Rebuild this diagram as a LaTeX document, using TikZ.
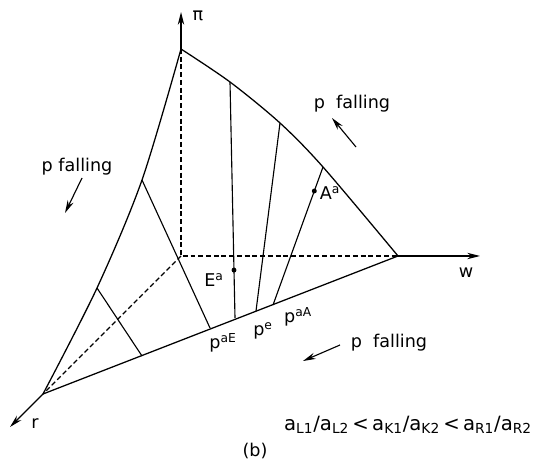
\documentclass[tikz,border=0pt]{standalone}
\usepackage{fontspec}
\setmainfont{DejaVu Sans}
\usetikzlibrary{arrows.meta}

\begin{document}
\begin{tikzpicture}[
  x=0.025cm, y=-0.025cm,
  >={Stealth[length=3.2mm,width=1.6mm]},
  font=\fontsize{12.5}{14}\selectfont,
  edge/.style={line width=0.9pt},
  hidden/.style={line width=0.8pt, dash pattern=on 3.5pt off 2pt},
  ray/.style={line width=0.8pt},
  axis/.style={->, line width=0.9pt},
  trend/.style={->, line width=0.8pt},
  dot/.style={circle, fill=black, inner sep=0pt, minimum size=3.5pt},
  lab/.style={inner sep=1pt}]

\useasboundingbox (0,0) rectangle (552,464);

% corners of the surface
\coordinate (O) at (181,256);
\coordinate (P) at (181,49);
\coordinate (W) at (398,256);
\coordinate (R) at (43,394);
\coordinate (Ptip) at (181,12);
\coordinate (Wtip) at (480,256);
\coordinate (Rtip) at (10,427);

% points on the curved edges
\coordinate (L1) at (97,288);
\coordinate (L2) at (142,180);
\coordinate (T1) at (230,82);
\coordinate (T2) at (280,123);
\coordinate (T3) at (323,167);

% points on the front edge
\coordinate (F1) at (142,356);
\coordinate (F2) at (210,328);
\coordinate (F3) at (235,318);
\coordinate (F4) at (256,311);
\coordinate (F5) at (273,305);

% hidden edges
\draw[hidden] (P) -- (O) -- (W);
\draw[hidden] (O) -- (R);

% axes
\draw[axis] (P) -- (Ptip);
\draw[axis] (W) -- (Wtip);
\draw[axis] (R) -- (Rtip);

% outline
\draw[edge] (R) -- (W);
\draw[edge] plot[smooth] coordinates {(R) (L1) (L2) (P)};
\draw[edge] plot[smooth] coordinates {(P) (T1) (T2) (T3) (W)};

% rays
\draw[ray] (L1) -- (F1);
\draw[ray] (L2) -- (F2);
\draw[ray] (T1) -- node[dot, pos=0.797] (Edot) {} (F3);
\draw[ray] (T2) -- (F4);
\draw[ray] (T3) -- node[dot, pos=0.174] (Adot) {} (F5);

% labels
\node[lab] (pi) at (198,16) {π};
\node[lab] (wl) at (466,273) {w};
\node[lab] (rl) at (35,424) {r};
\node[lab] (Ea) at (214,280) {E\textsuperscript{a}};
\node[lab] (Aa) at (330,193) {A\textsuperscript{a}};
\node[lab] (paE) at (223,343) {p\textsuperscript{aE}};
\node[lab] (pe) at (263,331) {p\textsuperscript{e}};
\node[lab] (paA) at (298,317) {p\textsuperscript{aA}};

% direction of falling p
\node[lab] (fallL) at (77,167) {p falling};
\coordinate (aL1) at (82,178);
\coordinate (aL2) at (65,213);
\draw[trend] (aL1) -- (aL2);

\node[lab] (fallT) at (352,104) {p\ \ falling};
\coordinate (aT1) at (356,147);
\coordinate (aT2) at (332,118);
\draw[trend] (aT1) -- (aT2);

\node[lab] (fallB) at (389,343) {p\ \ falling};
\coordinate (aB1) at (340,345);
\coordinate (aB2) at (303,361);
\draw[trend] (aB1) -- (aB2);

\node[lab, font=\fontsize{14}{16}\selectfont] (ratio) at (408,425)
  {a\textsubscript{L1}/a\textsubscript{L2}\,<\,a\textsubscript{K1}/a\textsubscript{K2}\,<\,a\textsubscript{R1}/a\textsubscript{R2}};
\node[lab] (cap) at (255,451) {(b)};

\end{tikzpicture}
\end{document}
